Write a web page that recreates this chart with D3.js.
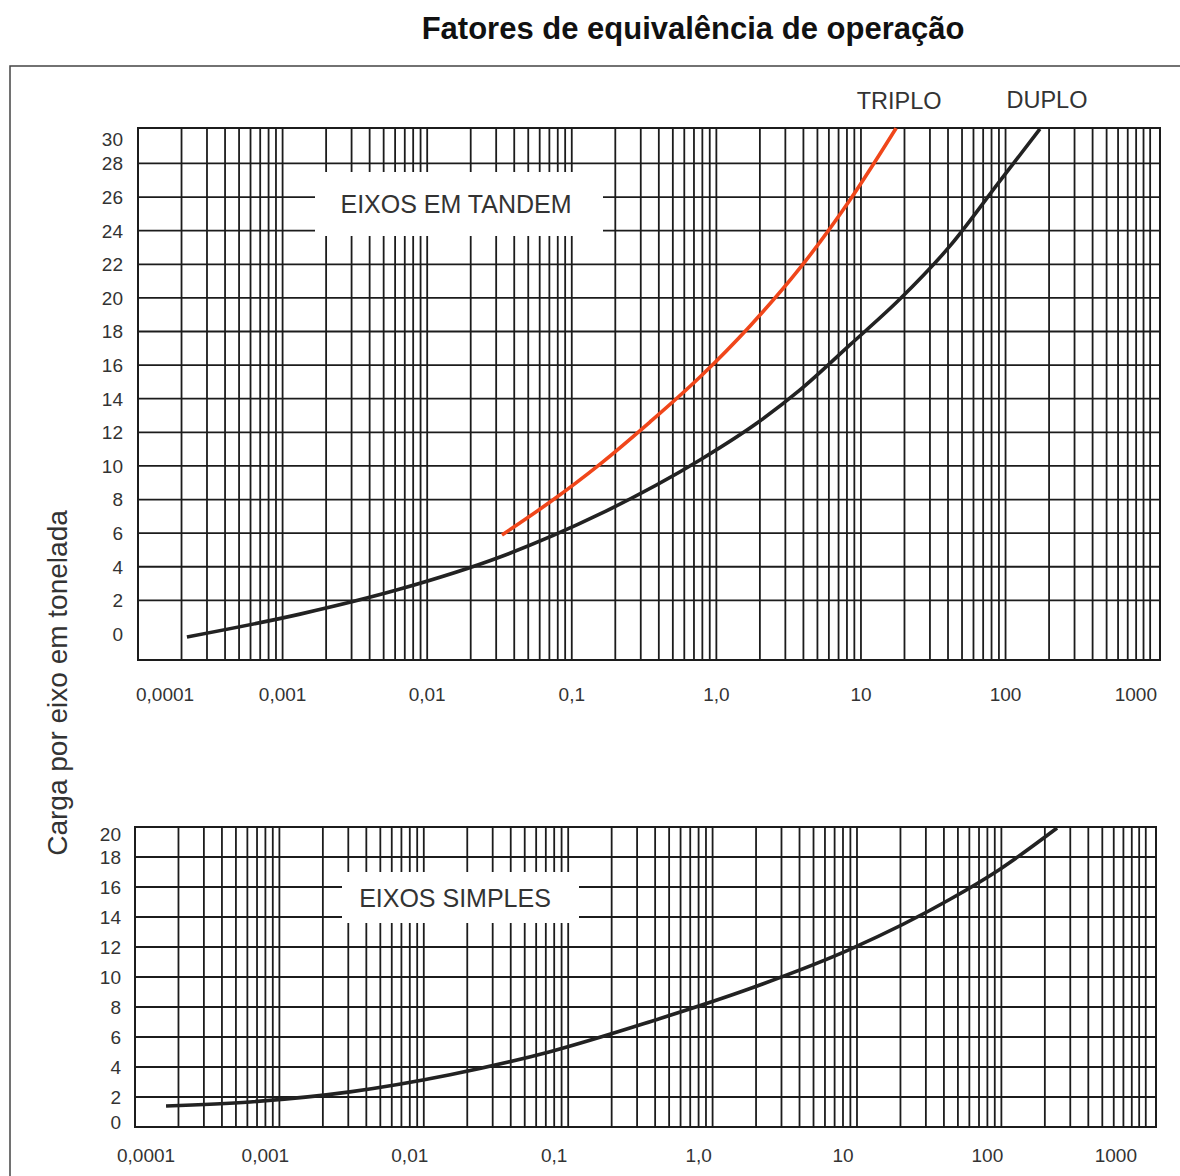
<!DOCTYPE html>
<html>
<head>
<meta charset="utf-8">
<script src="https://cdn.jsdelivr.net/npm/d3@7"></script>
<style>
  body { margin: 0; background: #fff; }
  svg { display: block; font-family: 'Liberation Sans', Arial, sans-serif; }
  .grid line { stroke: #1c1c1c; stroke-width: 1.8; }
  .tick-label { fill: #333; font-size: 19px; }
  .box-label { fill: #333; font-size: 25px; }
  .series-label { fill: #333; font-size: 23.5px; }
</style>
</head>
<body>
<div id="chart"></div>
<script>
// Load factor (x, log) against load per axle in tonnes (y)
const xTickValues = [0.0001, 0.001, 0.01, 0.1, 1, 10, 100, 1000];
const xTickLabels = ['0,0001', '0,001', '0,01', '0,1', '1,0', '10', '100', '1000'];
const tandemTicks = [0, 2, 4, 6, 8, 10, 12, 14, 16, 18, 20, 22, 24, 26, 28, 30];
const simplesTicks = [0, 2, 4, 6, 8, 10, 12, 14, 16, 18, 20];

// [factor, tonnes]
const duplo = [
  [0.000218, -0.18], [0.00132, 1.18], [0.00649, 2.67], [0.0319, 4.58],
  [0.157, 7.14], [0.77, 10.35], [2.0, 12.67], [3.79, 14.52],
  [8.39, 17.2], [18.6, 19.93], [41.3, 23.09], [91.5, 26.96], [173, 30.05]
];
const triplo = [
  [0.0329, 5.89], [0.0707, 7.85], [0.157, 10.11], [0.347, 12.61],
  [0.77, 15.29], [1.71, 18.33], [3.79, 21.78], [8.39, 25.83], [17.5, 30.1]
];
const simples = [
  [0.000164, 1.4], [0.000626, 1.67], [0.00308, 2.34], [0.0152, 3.48],
  [0.0748, 5.02], [0.369, 7.02], [1.82, 9.23], [8.94, 11.84],
  [44.1, 15.18], [97.8, 17.19], [243, 19.93]
];

const W = 1180, H = 1176;

const panels = [
  {
    left: 138, right: 1160, top: 128, bottom: 660,
    xMax: 1170, yDomain: [-1.55, 30.11],
    ticks: tandemTicks, grid: tandemTicks.filter(t => t > 0 && t < 30),
    yLabelX: 123, xLabelY: 694, labelDx: 0, edgeDx: -3,
    labelPad: [11, 4],
    box: { x0: 315, x1: 603, y0: 172, y1: 236, tx: 456, ty: 204, text: 'EIXOS EM TANDEM' },
    series: [
      { data: triplo, color: '#f0461a' },
      { data: duplo, color: '#222' }
    ]
  },
  {
    left: 135, right: 1156, top: 827, bottom: 1127,
    xMax: 1177, yDomain: [0, 20],
    ticks: simplesTicks, grid: simplesTicks.filter(t => t > 0 && t < 20),
    yLabelX: 121, xLabelY: 1155, labelDx: -14, edgeDx: -19,
    labelPad: [7, 5],
    box: { x0: 342, x1: 579, y0: 872, y1: 923, tx: 455, ty: 898, text: 'EIXOS SIMPLES' },
    series: [
      { data: simples, color: '#222' }
    ]
  }
];

const svg = d3.select('#chart')
  .append('svg')
  .attr('width', W)
  .attr('height', H)
  .attr('viewBox', `0 0 ${W} ${H}`);

// Outer frame (only top and left edges fall inside the page)
svg.append('rect')
  .attr('x', 10).attr('y', 66)
  .attr('width', W + 20).attr('height', H + 20)
  .attr('fill', 'none')
  .attr('stroke', '#444')
  .attr('stroke-width', 1.5);

// Title
svg.append('text')
  .attr('x', 693)
  .attr('y', 39)
  .attr('text-anchor', 'middle')
  .attr('font-size', 31)
  .attr('font-weight', 'bold')
  .attr('fill', '#111')
  .text('Fatores de equivalência de operação');

// Y axis title
svg.append('text')
  .attr('transform', 'translate(67,683) rotate(-90)')
  .attr('text-anchor', 'middle')
  .attr('font-size', 28)
  .attr('fill', '#333')
  .text('Carga por eixo em tonelada');

panels.forEach(p => {
  const x = d3.scaleLog().domain([0.0001, p.xMax]).range([p.left, p.right]);
  const y = d3.scaleLinear().domain(p.yDomain).range([p.bottom, p.top]);

  // Log grid: 1..9 in every decade
  const grid = svg.append('g').attr('class', 'grid');
  const vLines = [];
  for (let k = -4; k <= 3; k++) {
    for (let m = 1; m <= 9; m++) {
      const v = m * Math.pow(10, k);
      if (v > 0.0001 && v < p.xMax) vLines.push(v);
    }
  }
  grid.selectAll('.v')
    .data(vLines)
    .join('line')
    .attr('x1', d => x(d)).attr('x2', d => x(d))
    .attr('y1', p.top).attr('y2', p.bottom);

  grid.selectAll('.h')
    .data(p.grid)
    .join('line')
    .attr('x1', p.left).attr('x2', p.right)
    .attr('y1', d => y(d)).attr('y2', d => y(d));

  grid.append('rect')
    .attr('x', p.left).attr('y', p.top)
    .attr('width', p.right - p.left).attr('height', p.bottom - p.top)
    .attr('fill', 'none')
    .attr('stroke', '#1c1c1c')
    .attr('stroke-width', 2);

  // Y tick labels
  svg.append('g')
    .selectAll('text')
    .data(p.ticks)
    .join('text')
    .attr('class', 'tick-label')
    .attr('x', p.yLabelX)
    .attr('y', d => Math.max(p.top + p.labelPad[0], Math.min(p.bottom - p.labelPad[1], y(d))))
    .attr('dy', '0.36em')
    .attr('text-anchor', 'end')
    .text(d => d);

  // X tick labels
  const last = xTickValues.length - 1;
  svg.append('g')
    .selectAll('text')
    .data(xTickValues)
    .join('text')
    .attr('class', 'tick-label')
    .attr('x', (d, i) => {
      if (i === 0) return p.left + p.edgeDx + 1;
      if (i === last) return p.right + p.edgeDx;
      return x(d) + p.labelDx;
    })
    .attr('y', p.xLabelY)
    .attr('dy', '0.36em')
    .attr('text-anchor', (d, i) => i === 0 ? 'start' : (i === last ? 'end' : 'middle'))
    .text((d, i) => xTickLabels[i]);

  // Label box covering the grid
  const b = p.box;
  svg.append('rect')
    .attr('x', b.x0).attr('y', b.y0)
    .attr('width', b.x1 - b.x0).attr('height', b.y1 - b.y0)
    .attr('fill', '#fff');
  svg.append('text')
    .attr('class', 'box-label')
    .attr('x', b.tx).attr('y', b.ty)
    .attr('dy', '0.36em')
    .attr('text-anchor', 'middle')
    .text(b.text);

  // Curves
  const line = d3.line()
    .x(d => x(d[0]))
    .y(d => y(d[1]))
    .curve(d3.curveMonotoneX);

  p.series.forEach(s => {
    svg.append('path')
      .datum(s.data)
      .attr('d', line)
      .attr('fill', 'none')
      .attr('stroke', s.color)
      .attr('stroke-width', 3.6);
  });

  // Series names above the tandem panel, near the top end of each curve
  if (p.series.length > 1) {
    svg.append('text')
      .attr('class', 'series-label')
      .attr('x', x(triplo[triplo.length - 1][0]) + 3)
      .attr('y', 101)
      .attr('dy', '0.36em')
      .attr('text-anchor', 'middle')
      .text('TRIPLO');
    svg.append('text')
      .attr('class', 'series-label')
      .attr('x', x(duplo[duplo.length - 1][0]) + 7)
      .attr('y', 100)
      .attr('dy', '0.36em')
      .attr('text-anchor', 'middle')
      .text('DUPLO');
  }
});
</script>
</body>
</html>
